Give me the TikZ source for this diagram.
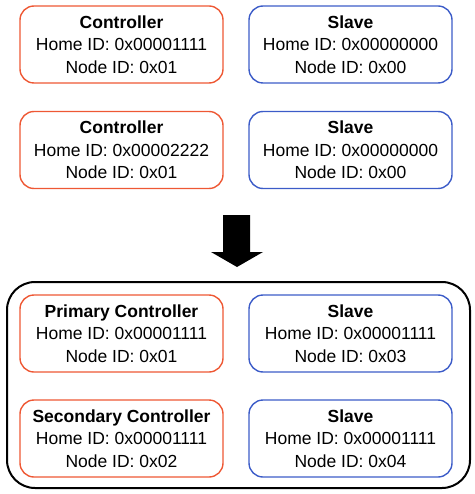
\documentclass[tikz,border=0pt]{standalone}
\usepackage{fontspec}
\setmainfont{Liberation Sans}
\definecolor{ctrlc}{RGB}{238,88,52}
\definecolor{slavec}{RGB}{60,92,200}
\tikzset{
  devbox/.style={draw, line width=1.4pt, rounded corners=14pt, minimum width=203pt, minimum height=77pt, align=center, inner sep=0pt, font=\fontsize{17.5}{22.5}\selectfont},
  ctrl/.style={devbox, draw=ctrlc},
  slv/.style={devbox, draw=slavec},
}
\begin{document}
\begin{tikzpicture}[x=1pt,y=-1pt]
\useasboundingbox (0,0) rectangle (474,494);
\node[ctrl] (c1) at (121.5,44.5) {\textbf{Controller}\\Home ID: 0x00001111\\Node ID: 0x01};
\node[slv] (s1) at (350.5,44.5) {\textbf{Slave}\\Home ID: 0x00000000\\Node ID: 0x00};
\node[ctrl] (c2) at (121.5,150) {\textbf{Controller}\\Home ID: 0x00002222\\Node ID: 0x01};
\node[slv] (s2) at (350.5,150) {\textbf{Slave}\\Home ID: 0x00000000\\Node ID: 0x00};
\fill (223,215) -- (250,215) -- (250,252) -- (263,252) -- (237,267) -- (211,252) -- (223,252) -- cycle;
\draw[line width=2pt, rounded corners=28pt] (7,282) rectangle (470,488);
\node[ctrl] (c3) at (121.5,333.5) {\textbf{Primary Controller}\\Home ID: 0x00001111\\Node ID: 0x01};
\node[slv] (s3) at (350.5,333.5) {\textbf{Slave}\\Home ID: 0x00001111\\Node ID: 0x03};
\node[ctrl] (c4) at (121.5,438.5) {\textbf{Secondary Controller}\\Home ID: 0x00001111\\Node ID: 0x02};
\node[slv] (s4) at (350.5,438.5) {\textbf{Slave}\\Home ID: 0x00001111\\Node ID: 0x04};
\end{tikzpicture}
\end{document}
